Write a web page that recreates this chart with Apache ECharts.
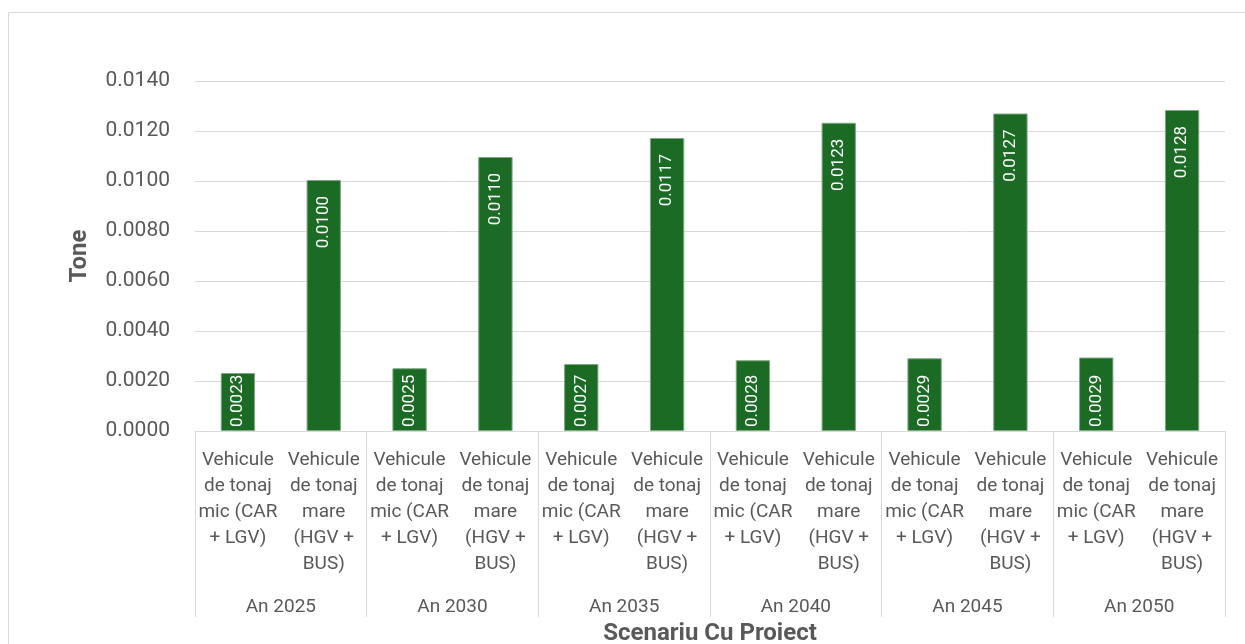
<!DOCTYPE html>
<html>
<head>
<meta charset="utf-8">
<title>Tone - Scenariu Cu Proiect</title>
<script src="https://cdn.jsdelivr.net/npm/echarts@6/dist/echarts.min.js"></script>
<style>
  html, body { margin: 0; padding: 0; background: #ffffff; }
  #chart { width: 1245px; height: 644px; }
</style>
</head>
<body>
<div id="chart"></div>
<script>
// Years (outer category level) and vehicle classes (inner level)
const years = ['An 2025', 'An 2030', 'An 2035', 'An 2040', 'An 2045', 'An 2050'];
const vehicleClasses = [
  'Vehicule\nde tonaj\nmic (CAR\n+ LGV)',
  'Vehicule\nde tonaj\nmare\n(HGV +\nBUS)'
];
// Emissions in tonnes, per year: [light vehicles, heavy vehicles]
const lightValues = [0.00232, 0.00251, 0.00268, 0.00283, 0.00291, 0.00294];
const heavyValues = [0.01004, 0.01096, 0.01172, 0.01233, 0.01270, 0.01284];
const yTicks = { min: 0, max: 0.014, interval: 0.002 };

const FONT = 'Roboto, "Liberation Sans", Arial, sans-serif';
const TEXT = '#595959';
const GRID_LINE = '#d9d9d9';
const BAR = '#1c6b24';

// Flatten into the 12 inner categories
const innerCats = [];
const values = [];
years.forEach((y, i) => {
  innerCats.push(vehicleClasses[0] + '|' + i);
  values.push(lightValues[i]);
  innerCats.push(vehicleClasses[1] + '|' + i);
  values.push(heavyValues[i]);
});

// Short bars carry their label from the base, tall bars from the top
const barData = values.map(v => {
  const short = v < 0.005;
  return {
    value: v,
    label: short
      ? { position: 'insideBottom', align: 'left', distance: 4 }
      : { position: 'insideTop', align: 'right', distance: 16 }
  };
});

const chart = echarts.init(document.getElementById('chart'), null, { renderer: 'canvas' });
chart.setOption({
  animation: false,
  backgroundColor: '#ffffff',
  textStyle: { fontFamily: FONT },
  graphic: [{
    type: 'rect',
    shape: { x: 8.5, y: 12.5, width: 1400, height: 800 },
    style: { fill: 'none', stroke: GRID_LINE, lineWidth: 1 },
    silent: true,
    z: -10
  }],
  grid: {
    left: 195, right: 20, top: 81, bottom: 213,
    containLabel: false,
    outerBoundsMode: 'none'
  },
  xAxis: [
    {
      type: 'category',
      data: innerCats,
      axisLine: { show: true, lineStyle: { color: GRID_LINE, width: 1 } },
      axisTick: { show: false },
      axisLabel: {
        interval: 0,
        margin: 16,
        color: TEXT,
        fontSize: 19,
        fontFamily: FONT,
        lineHeight: 26,
        align: 'center',
        formatter: v => v.split('|')[0]
      }
    },
    {
      type: 'category',
      data: years,
      position: 'bottom',
      axisLine: { show: false },
      axisTick: { show: true, length: 186, interval: 0, lineStyle: { color: GRID_LINE, width: 1 } },
      axisLabel: { interval: 0, margin: 167, color: TEXT, fontSize: 19, fontFamily: FONT },
      name: 'Scenariu Cu Proiect',
      nameLocation: 'middle',
      nameGap: 191,
      nameTextStyle: { color: TEXT, fontSize: 24, fontWeight: 'bold', fontFamily: FONT }
    }
  ],
  yAxis: {
    type: 'value',
    min: yTicks.min,
    max: yTicks.max,
    interval: yTicks.interval,
    axisLine: { show: false },
    axisTick: { show: false },
    splitLine: { lineStyle: { color: GRID_LINE, width: 1 } },
    axisLabel: {
      margin: 25,
      color: TEXT,
      fontSize: 21,
      fontFamily: FONT,
      formatter: v => v.toFixed(4)
    },
    name: 'Tone',
    nameLocation: 'middle',
    nameGap: 103,
    nameRotate: 90,
    nameTextStyle: { color: TEXT, fontSize: 24, fontWeight: 'bold', fontFamily: FONT }
  },
  series: [{
    type: 'bar',
    xAxisIndex: 0,
    data: barData,
    barWidth: '40%',
    itemStyle: { color: BAR, borderColor: '#7fa883', borderWidth: 1 },
    label: {
      show: true,
      rotate: 90,
      verticalAlign: 'middle',
      color: '#ffffff',
      fontSize: 17,
      fontFamily: FONT,
      formatter: p => p.value.toFixed(4)
    }
  }]
});
</script>
</body>
</html>
